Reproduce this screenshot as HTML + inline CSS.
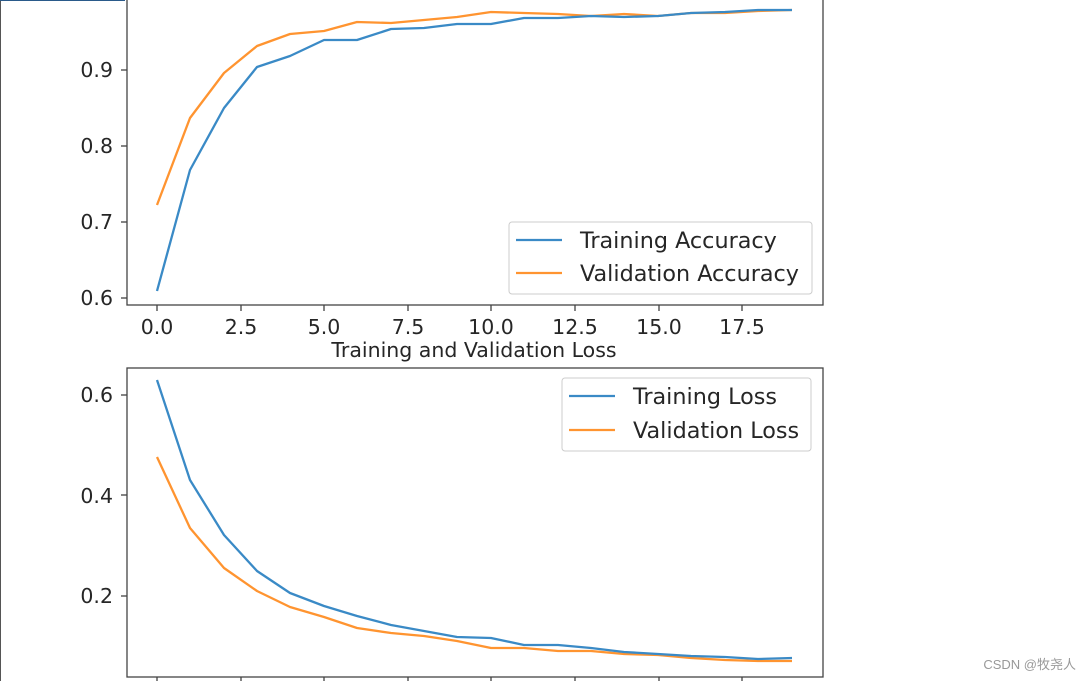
<!DOCTYPE html><html><head><style>body{margin:0;background:#fff;}svg{display:block;font-family:"DejaVu Sans","Liberation Sans",sans-serif;}</style></head><body>
<svg width="1092" height="681" viewBox="0 0 1092 681">
<rect width="1092" height="681" fill="#fff"/>
<line x1="0.5" y1="0" x2="0.5" y2="681" stroke="#555" stroke-width="1"/>
<line x1="0" y1="0.5" x2="125" y2="0.5" stroke="#2a5a8a" stroke-width="1"/>
<g fill="#262626" font-size="20.5" text-anchor="end">
<text x="113" y="77">0.9</text><text x="113" y="153">0.8</text><text x="113" y="229">0.7</text><text x="113" y="305">0.6</text>
<text x="113" y="402">0.6</text><text x="113" y="503">0.4</text><text x="113" y="603">0.2</text>
</g>
<g stroke="#333" stroke-width="1.2">
<line x1="121" y1="70" x2="127" y2="70"/><line x1="121" y1="146" x2="127" y2="146"/><line x1="121" y1="222" x2="127" y2="222"/><line x1="121" y1="298" x2="127" y2="298"/>
<line x1="121" y1="395" x2="127" y2="395"/><line x1="121" y1="495" x2="127" y2="495"/><line x1="121" y1="596" x2="127" y2="596"/>
<line x1="157" y1="305" x2="157" y2="311"/><line x1="241" y1="305" x2="241" y2="311"/><line x1="324" y1="305" x2="324" y2="311"/><line x1="408" y1="305" x2="408" y2="311"/><line x1="491" y1="305" x2="491" y2="311"/><line x1="575" y1="305" x2="575" y2="311"/><line x1="659" y1="305" x2="659" y2="311"/><line x1="742" y1="305" x2="742" y2="311"/>
<line x1="157" y1="677" x2="157" y2="681"/><line x1="241" y1="677" x2="241" y2="681"/><line x1="324" y1="677" x2="324" y2="681"/><line x1="408" y1="677" x2="408" y2="681"/><line x1="491" y1="677" x2="491" y2="681"/><line x1="575" y1="677" x2="575" y2="681"/><line x1="659" y1="677" x2="659" y2="681"/><line x1="742" y1="677" x2="742" y2="681"/>
</g>
<g fill="#262626" font-size="20.5" text-anchor="middle">
<text x="157" y="334">0.0</text><text x="241" y="334">2.5</text><text x="324" y="334">5.0</text><text x="408" y="334">7.5</text><text x="491" y="334">10.0</text><text x="575" y="334">12.5</text><text x="659" y="334">15.0</text><text x="742" y="334">17.5</text>
<text x="474" y="357" font-size="20.5">Training and Validation Loss</text>
</g>
<rect x="127" y="-2" width="696" height="307" fill="none" stroke="#444" stroke-width="1.3"/>
<rect x="127" y="368" width="696" height="309" fill="none" stroke="#444" stroke-width="1.3"/>
<g fill="none" stroke-width="2.3" stroke-linejoin="round">
<polyline stroke="#ff9430" points="157,205 190,118 224,73 257,46 290,34 324,31 357,22 391,23 424,20 457,17 491,12 524,13 558,14 591,16 624,14 658,16 691,13 725,13 758,11 792,10"/>
<polyline stroke="#3a8ac6" points="157,291 190,170 224,108 257,67 290,56 324,40 357,40 391,29 424,28 457,24 491,24 524,18 558,18 591,16 624,17 658,16 691,13 725,12 758,10 792,10"/>
<polyline stroke="#ff9430" points="157,457 190,528 224,568 257,591 290,607 324,617 357,628 391,633 424,636 457,641 491,648 524,648 558,651 591,651 624,654 658,655 691,658 725,660 758,661 792,661"/>
<polyline stroke="#3a8ac6" points="157,380 190,480 224,535 257,571 290,593 324,606 357,616 391,625 424,631 457,637 491,638 524,645 558,645 591,648 624,652 658,654 691,656 725,657 758,659 792,658"/>
</g>
<rect x="509" y="222" width="303" height="72" rx="3" fill="#fff" fill-opacity="0.85" stroke="#ccc"/>
<line x1="516" y1="240" x2="562" y2="240" stroke="#3a8ac6" stroke-width="2.3"/>
<line x1="516" y1="273" x2="562" y2="273" stroke="#ff9430" stroke-width="2.3"/>
<g fill="#262626" font-size="22.3"><text x="580" y="248">Training Accuracy</text><text x="580" y="281">Validation Accuracy</text>
<text x="633" y="404">Training Loss</text><text x="633" y="438">Validation Loss</text></g>
<rect x="562" y="378" width="249" height="73" rx="3" fill="none" stroke="#ccc"/>
<line x1="569" y1="396" x2="615" y2="396" stroke="#3a8ac6" stroke-width="2.3"/>
<line x1="569" y1="430" x2="615" y2="430" stroke="#ff9430" stroke-width="2.3"/>
<text x="1076" y="669" text-anchor="end" font-size="13" fill="#999" font-family="Liberation Sans,'Noto Sans CJK SC',sans-serif">CSDN @牧尧人</text>
</svg></body></html>
